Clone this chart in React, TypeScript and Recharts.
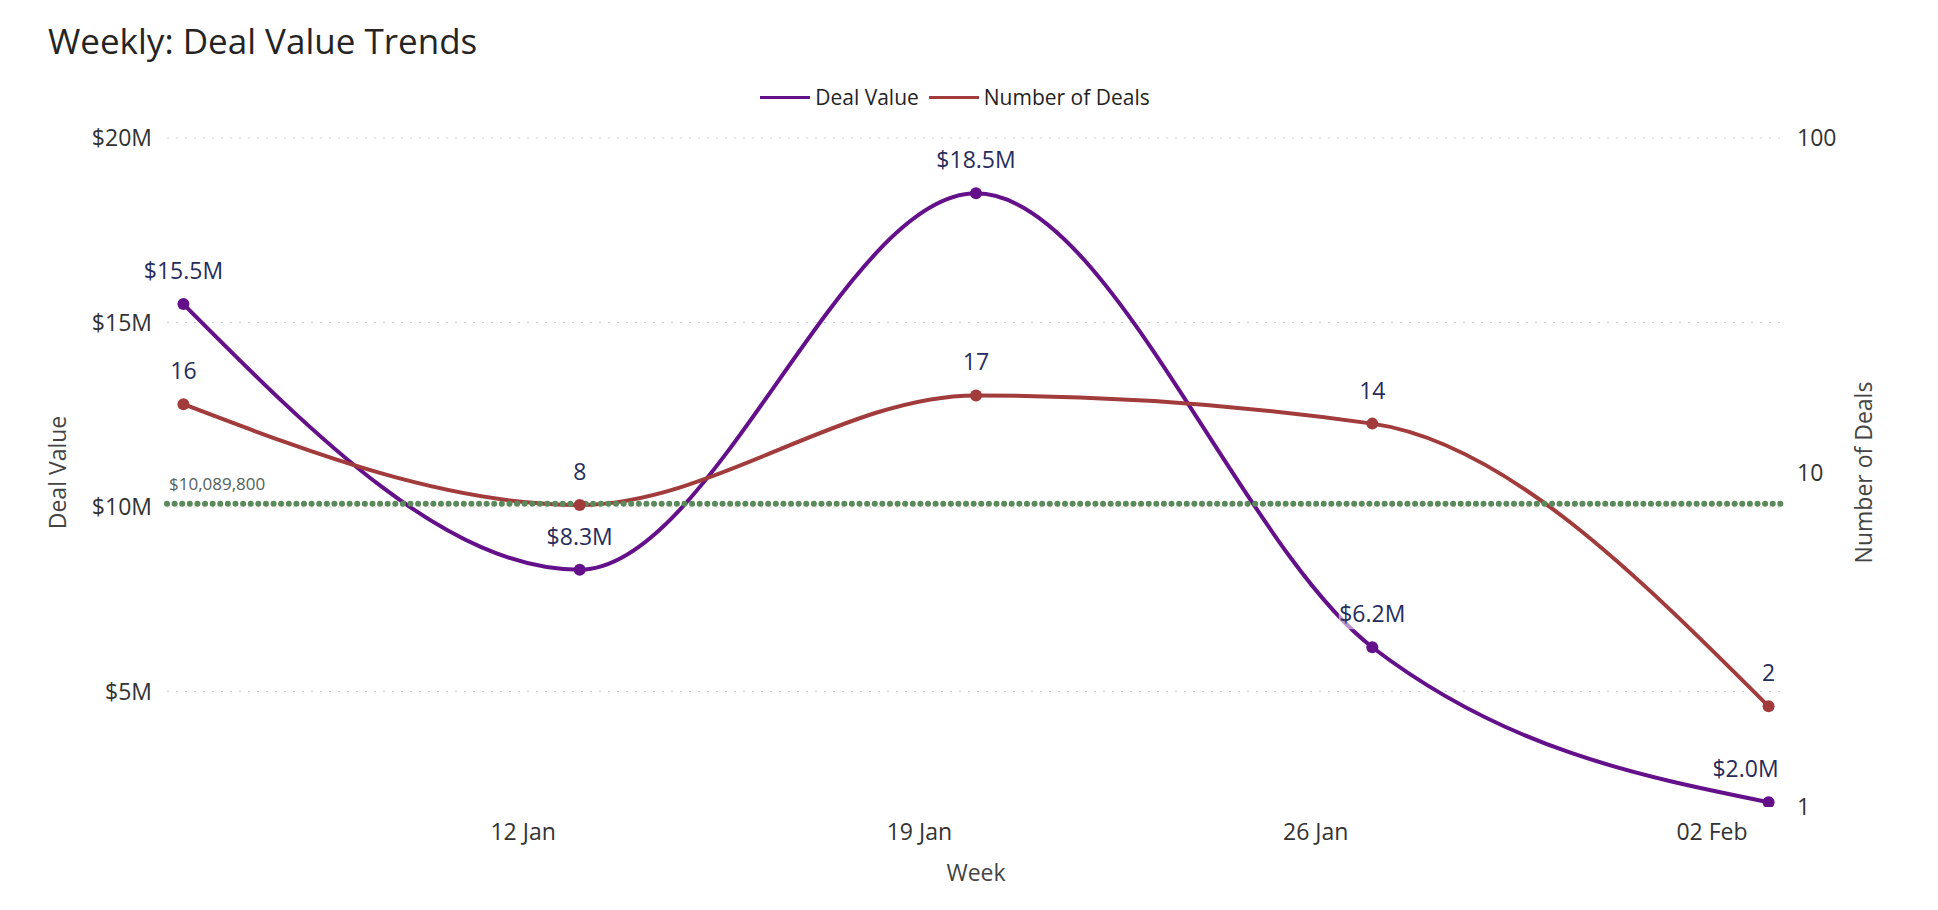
import { LineChart, Line, XAxis, YAxis, CartesianGrid, ReferenceLine, Legend, LabelList } from "recharts"

const weeks = ['2025-01-06', '2025-01-13', '2025-01-20', '2025-01-27', '2025-02-03']
const dealValue = [15500000, 8300000, 18500000, 6200000, 2000000]
const dealCount = [16, 8, 17, 14, 2]
const averageDealValue = 10089800
const averageLabel = '$10,089,800'

const weekTickDates = ['2025-01-12', '2025-01-19', '2025-01-26', '2025-02-02']
const weekTickLabels = ['12 Jan', '19 Jan', '26 Jan', '02 Feb']
const dealValueTicks = [5000000, 10000000, 15000000, 20000000]
const dealCountTicks = [1, 10, 100]

const FONT = "'Segoe UI', 'Open Sans', sans-serif"
const PURPLE = '#64108a'
const RED = '#a23b3b'
const GREEN = '#5a8a5a'
const LABEL_COLOR = '#262d5c'
const DAY = 86400000

const chartData = weeks.map((w, i) => ({
  t: Date.parse(w),
  value: dealValue[i],
  count: dealCount[i],
}))

const tickTimes = weekTickDates.map((d) => Date.parse(d))
const firstT = chartData[0].t
const lastT = chartData[chartData.length - 1].t

const formatMoneyShort = (v: number) => `$${(v / 1000000).toFixed(1)}M`

const renderLegend = () => (
  <div style={{ height: 61, display: 'flex', justifyContent: 'center', alignItems: 'flex-start', paddingRight: 18, fontFamily: FONT, fontSize: 21, color: '#252423' }}>
    {[
      { name: 'Deal Value', color: PURPLE },
      { name: 'Number of Deals', color: RED },
    ].map((item) => (
      <div key={item.name} style={{ display: 'flex', alignItems: 'center', height: 40, marginRight: 10 }}>
        <div style={{ width: 50, height: 3, background: item.color, marginRight: 5 }} />
        <span>{item.name}</span>
      </div>
    ))}
  </div>
)

const makeValueLabel = (format: (v: number) => string, withBox: boolean) => (props: any) => {
  const { x, y, value, index } = props
  const text = format(Number(value))
  const isLast = index === chartData.length - 1 && withBox
  const cy = y - 33
  const w = text.length * 12.6 + 4
  const tx = isLast ? x + 10 : x
  const rx = isLast ? tx - w : tx - w / 2
  return (
    <g>
      {withBox && <rect x={rx} y={cy - 15} width={w} height={30} fill="#ffffff" fillOpacity={0.55} />}
      <text x={tx} y={cy} dy="0.35em" textAnchor={isLast ? 'end' : 'middle'} fill={LABEL_COLOR} fontSize={23} fontFamily={FONT}>
        {text}
      </text>
    </g>
  )
}

const verticalTitle = (text: string, offsetX: number) => (props: any) => {
  const { viewBox } = props
  const cx = viewBox.x + offsetX
  const cy = viewBox.y + viewBox.height / 2
  return (
    <text x={cx} y={cy} dy="0.35em" transform={`rotate(-90 ${cx} ${cy})`} textAnchor="middle" fill="#444" fontSize={23} fontFamily={FONT}>
      {text}
    </text>
  )
}

const weekTitle = (props: any) => {
  const { viewBox } = props
  const cx = viewBox.x + viewBox.width / 2
  const cy = viewBox.y + 66
  return (
    <text x={cx} y={cy} dy="0.35em" textAnchor="middle" fill="#444" fontSize={23} fontFamily={FONT}>
      Week
    </text>
  )
}

const averageLabelContent = (props: any) => {
  const { viewBox } = props
  return (
    <text x={viewBox.x + 2} y={viewBox.y - 14} fill="#55605a" fontSize={17} fontFamily={FONT}>
      {averageLabel}
    </text>
  )
}

const tickStyle = { fill: '#333', fontSize: 23, fontFamily: FONT }

const App = () => {
  return (
    <div style={{ position: 'absolute', left: 0, top: 0, width: 1938, height: 910, background: '#ffffff' }}>
      <div style={{ position: 'absolute', left: 48, top: 23, fontFamily: FONT, fontSize: 35, lineHeight: 1, color: '#252423', zIndex: 2 }}>
        Weekly: Deal Value Trends
      </div>
      <LineChart width={1938} height={910} data={chartData} margin={{ top: 77, right: 0, bottom: 0, left: 0 }}>
        <CartesianGrid
          yAxisId="left"
          vertical={false}
          horizontalValues={dealValueTicks}
          stroke="#cfcfcf"
          strokeDasharray="2 7"
        />
        <XAxis
          dataKey="t"
          type="number"
          domain={[firstT - 0.29 * DAY, lastT + 0.29 * DAY]}
          ticks={tickTimes}
          allowDataOverflow
          tickFormatter={(v: number) => weekTickLabels[tickTimes.indexOf(v)] ?? ''}
          tick={tickStyle}
          tickLine={false}
          axisLine={false}
          tickMargin={11}
          height={103}
          label={{ content: weekTitle }}
        />
        <YAxis
          yAxisId="left"
          orientation="left"
          domain={[1870000, 20000000]}
          ticks={dealValueTicks}
          allowDataOverflow
          tickFormatter={(v: number) => `$${v / 1000000}M`}
          tick={tickStyle}
          tickLine={false}
          axisLine={false}
          tickMargin={9}
          width={167}
          label={{ content: verticalTitle('Deal Value', 58) }}
        />
        <YAxis
          yAxisId="right"
          orientation="right"
          scale="log"
          domain={[1, 100]}
          ticks={dealCountTicks}
          allowDataOverflow
          tick={{ ...tickStyle, textAnchor: 'start' }}
          tickLine={false}
          axisLine={false}
          tickMargin={6}
          width={153}
          label={{ content: verticalTitle('Number of Deals', 79) }}
        />
        <Legend verticalAlign="top" align="center" content={renderLegend} />
        <Line
          yAxisId="left"
          type="monotone"
          dataKey="value"
          name="Deal Value"
          stroke={PURPLE}
          strokeWidth={4}
          dot={{ r: 6, fill: PURPLE, stroke: 'none' }}
          activeDot={false}
          isAnimationActive={false}
        >
          <LabelList dataKey="value" content={makeValueLabel(formatMoneyShort, true)} />
        </Line>
        <Line
          yAxisId="right"
          type="monotone"
          dataKey="count"
          name="Number of Deals"
          stroke={RED}
          strokeWidth={4}
          dot={{ r: 6, fill: RED, stroke: 'none' }}
          activeDot={false}
          isAnimationActive={false}
        >
          <LabelList dataKey="count" content={makeValueLabel((v) => String(v), false)} />
        </Line>
        <ReferenceLine
          yAxisId="left"
          y={averageDealValue}
          stroke={GREEN}
          strokeWidth={6}
          strokeDasharray="0.01 7.6"
          strokeLinecap="round"
          label={averageLabelContent}
        />
      </LineChart>
    </div>
  )
}

export default App
